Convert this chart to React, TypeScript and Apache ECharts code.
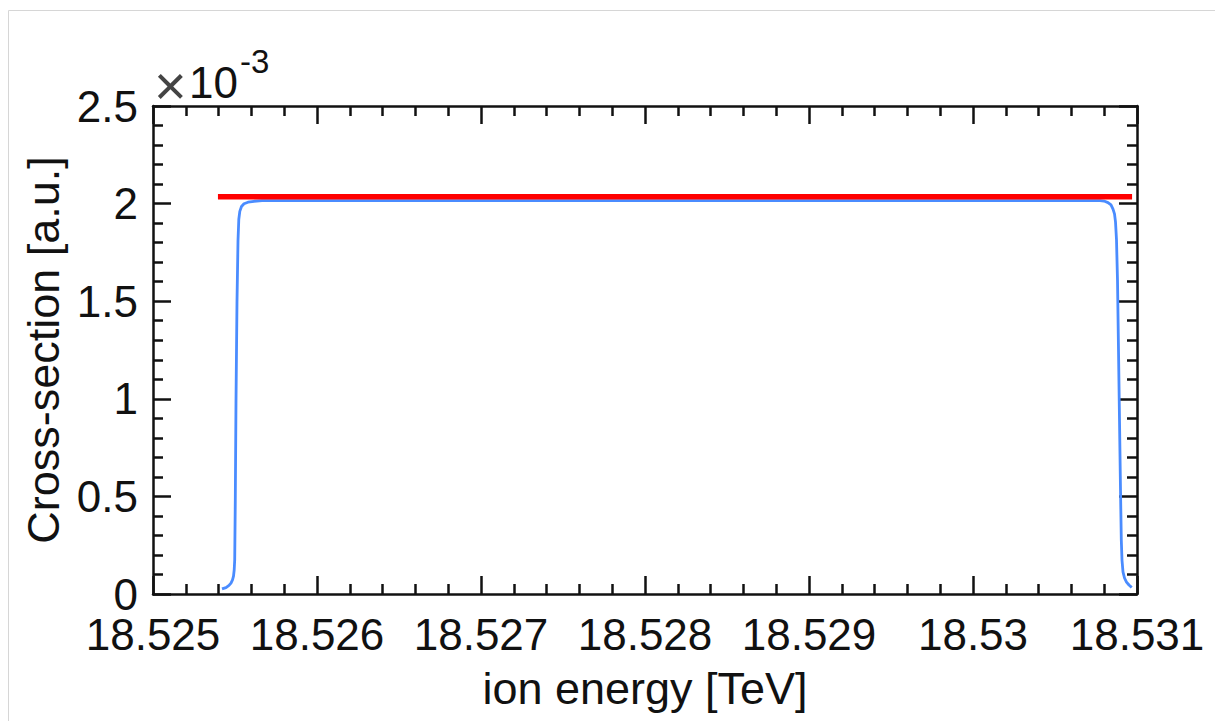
import React, { useEffect, useRef } from "react";
import * as echarts from "echarts";

// ion energy [TeV] for the blue (smoothed) cross-section curve
const blueEnergy = [
  18.5254207, 18.5254451, 18.5254634, 18.5254756, 18.5254848, 18.5254909,
  18.5254951, 18.5254982, 18.5255018, 18.5255061, 18.5255122, 18.5255183,
  18.5255232, 18.5255293, 18.5255396, 18.5255549, 18.5255793, 18.5256159,
  18.5256646, 18.527, 18.528, 18.529, 18.53, 18.5307744, 18.5307988,
  18.5308232, 18.5308415, 18.5308537, 18.5308628, 18.5308689, 18.530875,
  18.5308811, 18.5308872, 18.5308933, 18.5308994, 18.5309043, 18.5309085,
  18.5309146, 18.5309238, 18.530936, 18.5309512, 18.5309677,
];
// cross-section in units of 1e-3 a.u.
const blueValues = [
  0.026, 0.033, 0.044, 0.056, 0.072, 0.092, 0.123, 0.174, 0.48, 0.99, 1.5,
  1.81, 1.92, 1.96, 1.985, 1.999, 2.007, 2.012, 2.015, 2.015, 2.015, 2.015,
  2.015, 2.015, 2.013, 2.005, 1.993, 1.972, 1.947, 1.906, 1.814, 1.609, 1.25,
  0.891, 0.533, 0.277, 0.174, 0.113, 0.082, 0.061, 0.046, 0.033,
];
// red (ideal) cross-section
const redEnergy = [18.525396, 18.53097];
const redValues = [2.035, 2.035];

const xMin = 18.525;
const xMax = 18.531;
const xStep = 0.001;
const yMin = 0;
const yMax = 2.5;
const yStep = 0.5;

const FONT = "Liberation Sans, Arial, Helvetica, sans-serif";

export default function App() {
  const ref = useRef<HTMLDivElement>(null);
  useEffect(() => {
    if (!ref.current) return;
    const chart = echarts.init(ref.current, null, { renderer: "svg" });
    const axisLine = { show: true, onZero: false, lineStyle: { color: "#111", width: 2.5 } };
    const tick = { show: true, inside: true, length: 18, lineStyle: { color: "#111", width: 2.5 } };
    const minor = { show: true, splitNumber: 5, length: 10, lineStyle: { color: "#111", width: 2.5 } };
    const fmtX = (v: number) => String(parseFloat(v.toFixed(3)));
    const xBase = {
      type: "value" as const,
      min: xMin,
      max: xMax,
      interval: xStep,
      axisLine,
      axisTick: tick,
      minorTick: minor,
      splitLine: { show: false },
      minorSplitLine: { show: false },
    };
    const yBase = {
      type: "value" as const,
      min: yMin,
      max: yMax,
      interval: yStep,
      axisLine,
      axisTick: tick,
      minorTick: minor,
      splitLine: { show: false },
      minorSplitLine: { show: false },
    };
    chart.setOption({
      animation: false,
      backgroundColor: "#fff",
      grid: { left: 153, top: 106, right: 78, bottom: 127, containLabel: false },
      xAxis: [
        {
          ...xBase,
          position: "bottom",
          name: "ion energy [TeV]",
          nameLocation: "middle",
          nameGap: 72,
          nameTextStyle: { fontFamily: FONT, fontSize: 45, color: "#111" },
          axisLabel: {
            formatter: fmtX,
            margin: 23,
            lineHeight: 34,
            fontFamily: FONT,
            fontSize: 44,
            color: "#111",
            showMinLabel: true,
            showMaxLabel: true,
          },
        },
        { ...xBase, position: "top", axisLabel: { show: false } },
      ],
      yAxis: [
        {
          ...yBase,
          position: "left",
          name: "Cross-section [a.u.]",
          nameLocation: "middle",
          nameGap: 82,
          nameRotate: 90,
          nameTextStyle: { fontFamily: FONT, fontSize: 45, color: "#111" },
          axisLabel: { margin: 15, lineHeight: 34, fontFamily: FONT, fontSize: 44, color: "#111" },
        },
        { ...yBase, position: "right", axisLabel: { show: false } },
      ],
      graphic: [
        {
          type: "rect",
          silent: true,
          shape: { x: 8.5, y: 10.5, width: 1400, height: 900 },
          style: { fill: "none", stroke: "#d6d6d6", lineWidth: 1 },
        },
        {
          type: "text",
          x: 154,
          y: 85,
          style: { text: "×", font: `56px ${FONT}`, fill: "#444", verticalAlign: "middle" },
        },
        {
          type: "text",
          x: 189,
          y: 82,
          style: { text: "10", font: `44px ${FONT}`, fill: "#111", verticalAlign: "middle" },
        },
        {
          type: "text",
          x: 240,
          y: 61,
          style: { text: "-3", font: `33px ${FONT}`, fill: "#111", verticalAlign: "middle" },
        },
      ],
      series: [
        {
          type: "line",
          name: "smoothed",
          data: blueEnergy.map((x, i) => [x, blueValues[i]]),
          showSymbol: false,
          symbol: "none",
          lineStyle: { color: "#4a8cff", width: 2.8 },
          z: 2,
        },
        {
          type: "line",
          name: "ideal",
          data: redEnergy.map((x, i) => [x, redValues[i]]),
          showSymbol: false,
          symbol: "none",
          lineStyle: { color: "#ff0000", width: 5.5 },
          z: 3,
        },
      ],
    });
    return () => chart.dispose();
  }, []);
  return (
    <div
      ref={ref}
      style={{ position: "fixed", left: 0, top: 0, width: 1215, height: 721 }}
    />
  );
}
